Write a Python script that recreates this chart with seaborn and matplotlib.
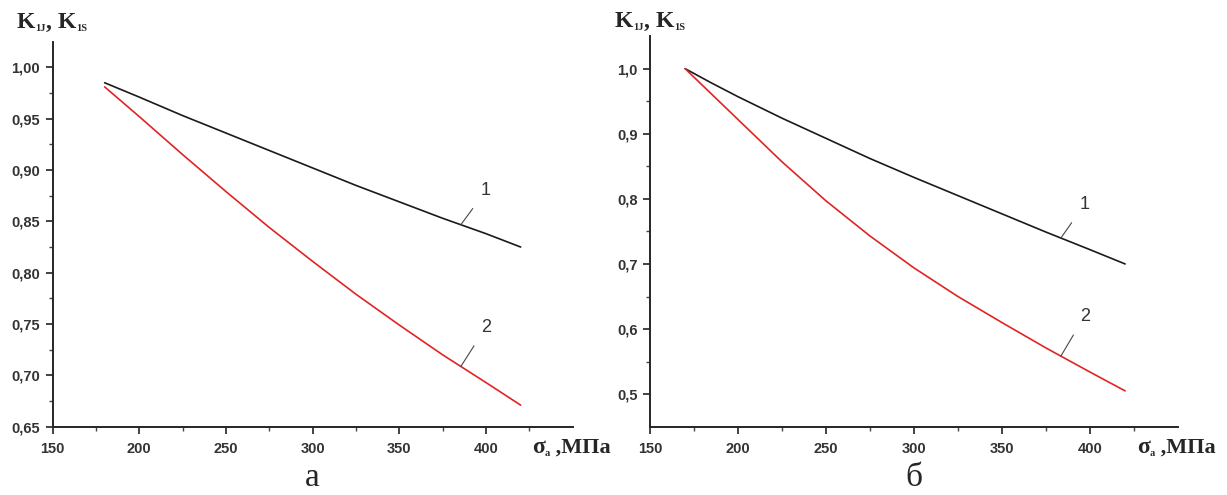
import numpy as np
import pandas as pd
import matplotlib
matplotlib.use("Agg")
import matplotlib.pyplot as plt
import seaborn as sns

# panel "а"
sigma_a = [180, 200, 225, 250, 275, 300, 325, 350, 375, 400, 420]
k1j_a = [0.985, 0.971, 0.953, 0.936, 0.919, 0.902, 0.885, 0.869, 0.853, 0.838, 0.825]
k1s_a = [0.981, 0.952, 0.915, 0.879, 0.844, 0.811, 0.779, 0.749, 0.720, 0.693, 0.671]

# panel "б"
sigma_b = [170, 185, 200, 225, 250, 275, 300, 325, 350, 375, 400, 420]
k1j_b = [1.000, 0.978, 0.957, 0.924, 0.893, 0.862, 0.833, 0.805, 0.777, 0.749, 0.722, 0.700]
k1s_b = [1.000, 0.961, 0.922, 0.857, 0.797, 0.743, 0.694, 0.650, 0.610, 0.571, 0.534, 0.505]

x_ticks = [150, 200, 250, 300, 350, 400]
x_minor = [175, 225, 275, 325, 375, 425]
y_ticks_a = [0.65, 0.70, 0.75, 0.80, 0.85, 0.90, 0.95, 1.00]
y_ticks_b = [0.5, 0.6, 0.7, 0.8, 0.9, 1.0]

curve_names = ["1", "2"]
panel_names = ["а", "б"]

sns.set_theme(style="ticks")
plt.rcParams["font.family"] = ["Liberation Sans", "DejaVu Sans"]
plt.rcParams["axes.linewidth"] = 1.4

fig = plt.figure(figsize=(12.27, 4.95), dpi=100)
ax_a = fig.add_axes([0.0429, 0.138, 0.4238, 0.7778])
ax_b = fig.add_axes([0.5297, 0.138, 0.4303, 0.789])

serif = ["Liberation Serif", "DejaVu Serif"]


def chain_text(x, y, parts):
    # parts: (text, size) drawn one after the other on a common bottom line
    prev = fig.text(x, y, parts[0][0], fontsize=parts[0][1], family=serif,
                    fontweight="bold", va="baseline", ha="left")
    for s, size in parts[1:]:
        prev = ax_a.annotate(s, xy=(1, 0), xycoords=prev, fontsize=size,
                             family=serif, fontweight="bold",
                             va="bottom", ha="left", annotation_clip=False)


def draw_panel(ax, x, y1, y2, ylim, yticks, ndec, lab_pos, lab_x):
    df = pd.DataFrame({"sigma": x, "K1J": y1, "K1S": y2})
    sns.lineplot(data=df, x="sigma", y="K1J", ax=ax, color="#1a1a1a", lw=1.2)
    sns.lineplot(data=df, x="sigma", y="K1S", ax=ax, color="#e02424", lw=1.2)
    ax.set_xlim(150, 450)
    ax.set_ylim(*ylim)
    ax.set_xlabel("")
    ax.set_ylabel("")
    ax.set_xticks(x_ticks)
    ax.set_xticks(x_minor, minor=True)
    ax.set_xticklabels([str(v) for v in x_ticks])
    step = yticks[1] - yticks[0]
    ax.set_yticks(yticks)
    ax.set_yticks([v + step / 2 for v in yticks[:-1]], minor=True)
    ax.set_yticklabels([f"{v:.{ndec}f}".replace(".", ",") for v in yticks])
    ax.tick_params(which="major", length=5, width=1.2, direction="out",
                   labelsize=10.5, color="#222222", pad=4)
    ax.tick_params(which="minor", length=3, width=1.0, direction="out",
                   color="#444444")
    ax.tick_params(axis="x", which="major", pad=6)
    for lbl in ax.get_xticklabels() + ax.get_yticklabels():
        lbl.set_fontweight("bold")
        lbl.set_color("#333333")
    sns.despine(ax=ax)
    for name, yy, (lx, ly) in zip(curve_names, [y1, y2], lab_pos):
        py = np.interp(lab_x, x, yy)
        ax.annotate(name, xy=(lab_x, py), xytext=(lx, ly), fontsize=13,
                    color="#333333", ha="center", va="center",
                    arrowprops=dict(arrowstyle="-", lw=0.8, color="#3f4a48",
                                    shrinkA=6, shrinkB=0))


draw_panel(ax_a, sigma_a, k1j_a, k1s_a, (0.65, 1.025), y_ticks_a, 2,
           [(400, 0.880), (400, 0.747)], 385.5)
draw_panel(ax_b, sigma_b, k1j_b, k1s_b, (0.45, 1.05), y_ticks_b, 1,
           [(397, 0.792), (397, 0.620)], 383.5)

# axis titles
W, H = 1227.0, 495.0
k_parts = [("K", 17), ("1J", 7.5), (", ", 17), ("K", 17), ("1S", 7.5)]
s_parts = [("σ", 17), ("a", 7.5), (" ,МПа", 16)]
chain_text(17 / W, 1 - 28 / H, k_parts)
chain_text(615 / W, 1 - 27 / H, k_parts)
chain_text(532 / W, 1 - 453 / H, s_parts)
chain_text(1137 / W, 1 - 453 / H, s_parts)

# panel letters
for ax, name in zip([ax_a, ax_b], panel_names):
    pos = ax.get_position()
    fig.text((pos.x0 + pos.x1) / 2, 1 - 486 / H, name, fontsize=24,
             family=serif, ha="center", va="baseline")

fig.savefig("out.png", dpi=100)
